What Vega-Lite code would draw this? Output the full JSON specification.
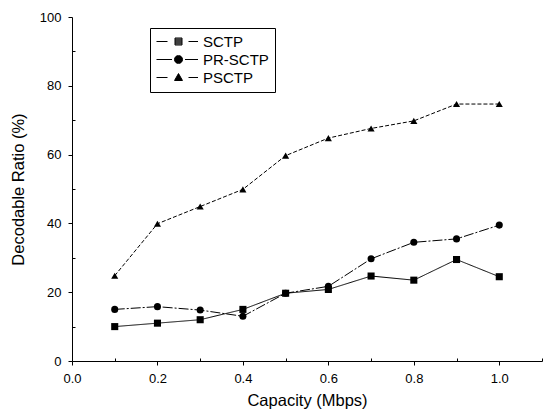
{
  "$schema": "https://vega.github.io/schema/vega-lite/v6.json",
  "autosize": {"type": "none"},
  "padding": {"left": 72, "top": 17, "right": 5, "bottom": 52},
  "width": 470,
  "height": 344,
  "background": "white",
  "config": {
    "view": {"stroke": null},
    "font": "Liberation Sans",
    "axis": {
      "domainColor": "black",
      "tickColor": "black",
      "labelColor": "black",
      "titleColor": "black",
      "grid": false,
      "labelFont": "Liberation Sans",
      "titleFont": "Liberation Sans",
      "labelFontSize": 13,
      "titleFontSize": 16.5,
      "titleFontWeight": "normal"
    }
  },
  "data": {
    "values": [
      {"x": 0.1, "y": 10, "series": "SCTP"},
      {"x": 0.2, "y": 11, "series": "SCTP"},
      {"x": 0.3, "y": 12, "series": "SCTP"},
      {"x": 0.4, "y": 15, "series": "SCTP"},
      {"x": 0.5, "y": 19.7, "series": "SCTP"},
      {"x": 0.6, "y": 20.8, "series": "SCTP"},
      {"x": 0.7, "y": 24.7, "series": "SCTP"},
      {"x": 0.8, "y": 23.5, "series": "SCTP"},
      {"x": 0.9, "y": 29.5, "series": "SCTP"},
      {"x": 1.0, "y": 24.5, "series": "SCTP"},
      {"x": 0.1, "y": 15, "series": "PR-SCTP"},
      {"x": 0.2, "y": 15.8, "series": "PR-SCTP"},
      {"x": 0.3, "y": 14.8, "series": "PR-SCTP"},
      {"x": 0.4, "y": 13, "series": "PR-SCTP"},
      {"x": 0.5, "y": 19.7, "series": "PR-SCTP"},
      {"x": 0.6, "y": 21.7, "series": "PR-SCTP"},
      {"x": 0.7, "y": 29.7, "series": "PR-SCTP"},
      {"x": 0.8, "y": 34.5, "series": "PR-SCTP"},
      {"x": 0.9, "y": 35.5, "series": "PR-SCTP"},
      {"x": 1.0, "y": 39.5, "series": "PR-SCTP"},
      {"x": 0.1, "y": 24.8, "series": "PSCTP"},
      {"x": 0.2, "y": 39.9, "series": "PSCTP"},
      {"x": 0.3, "y": 44.9, "series": "PSCTP"},
      {"x": 0.4, "y": 49.9, "series": "PSCTP"},
      {"x": 0.5, "y": 59.7, "series": "PSCTP"},
      {"x": 0.6, "y": 64.8, "series": "PSCTP"},
      {"x": 0.7, "y": 67.6, "series": "PSCTP"},
      {"x": 0.8, "y": 69.8, "series": "PSCTP"},
      {"x": 0.9, "y": 74.7, "series": "PSCTP"},
      {"x": 1.0, "y": 74.7, "series": "PSCTP"}
    ]
  },
  "encoding": {
    "x": {
      "field": "x", "type": "quantitative",
      "scale": {"domain": [0, 1.1], "nice": false, "zero": false},
      "axis": {
        "title": "Capacity (Mbps)",
        "values": [0, 0.1, 0.2, 0.3, 0.4, 0.5, 0.6, 0.7, 0.8, 0.9, 1.0, 1.1],
        "labelExpr": "round(datum.value*10) % 2 === 0 && datum.value < 1.05 ? format(datum.value, '.1f') : ''",
        "tickSize": {"condition": {"test": "round(datum.value*10) % 2 === 0", "value": 4}, "value": -3},
        "labelPadding": 7,
        "titlePadding": 7,
        "labelFlush": false
      }
    },
    "y": {
      "field": "y", "type": "quantitative",
      "scale": {"domain": [0, 100], "nice": false},
      "axis": {
        "title": "Decodable Ratio (%)",
        "values": [0, 10, 20, 30, 40, 50, 60, 70, 80, 90, 100],
        "labelExpr": "datum.value % 20 === 0 ? datum.label : ''",
        "tickSize": {"condition": {"test": "datum.value % 20 === 0", "value": 4}, "value": -3},
        "labelPadding": 7,
        "titlePadding": 13,
        "labelFlush": false
      }
    }
  },
  "layer": [
    {
      "mark": {"type": "line", "color": "black", "strokeWidth": 1},
      "encoding": {
        "strokeDash": {
          "field": "series", "type": "nominal",
          "scale": {"domain": ["SCTP", "PR-SCTP", "PSCTP"], "range": [[1, 0], [10, 2, 2, 2], [4, 2]]},
          "legend": null
        }
      }
    },
    {
      "mark": {"type": "point", "filled": true, "color": "black", "size": 50, "opacity": 1},
      "encoding": {
        "shape": {
          "field": "series", "type": "nominal",
          "scale": {"domain": ["SCTP", "PR-SCTP", "PSCTP"], "range": ["square", "circle", "triangle-up"]},
          "legend": null
        }
      }
    },
    {
      "transform": [{"filter": "datum.x > 5"}],
      "mark": {"type": "point", "filled": false, "color": "black", "strokeWidth": 1, "opacity": 1},
      "encoding": {
        "shape": {
          "field": "series", "type": "nominal",
          "scale": {
            "domain": ["SCTP", "PR-SCTP", "PSCTP"],
            "range": [
              "M-4.4,0H-2.2M-0.7,-0.7H0.7V0.7H-0.7ZM-0.7,-0.5H0.7M-0.7,-0.3H0.7M-0.7,-0.1H0.7M-0.7,0.1H0.7M-0.7,0.3H0.7M-0.7,0.5H0.7M2.0,0H3.9",
              "M-4.4,0H-1.3M0.8,0A0.8,0.8 0 1,1 -0.8,0A0.8,0.8 0 1,1 0.8,0ZM-0.53,-0.6H0.53M-0.69,-0.4H0.69M-0.77,-0.2H0.77M-0.8,0H0.8M-0.77,0.2H0.77M-0.69,0.4H0.69M-0.53,0.6H0.53M1.3,0H3.9",
              "M-4.4,0H-2.2M0,-0.8L0.8,0.6H-0.8ZM-0.11,-0.6H0.11M-0.23,-0.4H0.23M-0.34,-0.2H0.34M-0.46,0H0.46M-0.57,0.2H0.57M-0.69,0.4H0.69M2.0,0H3.9"
            ]
          },
          "legend": {
            "title": null,
            "orient": "none",
            "legendX": 78,
            "legendY": 11,
            "strokeColor": "black",
            "fillColor": "white",
            "padding": 6,
            "symbolSize": 100,
            "symbolOffset": 15,
            "labelOffset": 17,
            "labelFontSize": 15,
            "labelFont": "Liberation Sans",
            "labelColor": "black",
            "rowPadding": 2,
            "symbolStrokeColor": "black",
            "symbolStrokeWidth": 1,
            "symbolOpacity": 1
          }
        }
      }
    }
  ],
  "resolve": {"scale": {"shape": "independent"}}
}
